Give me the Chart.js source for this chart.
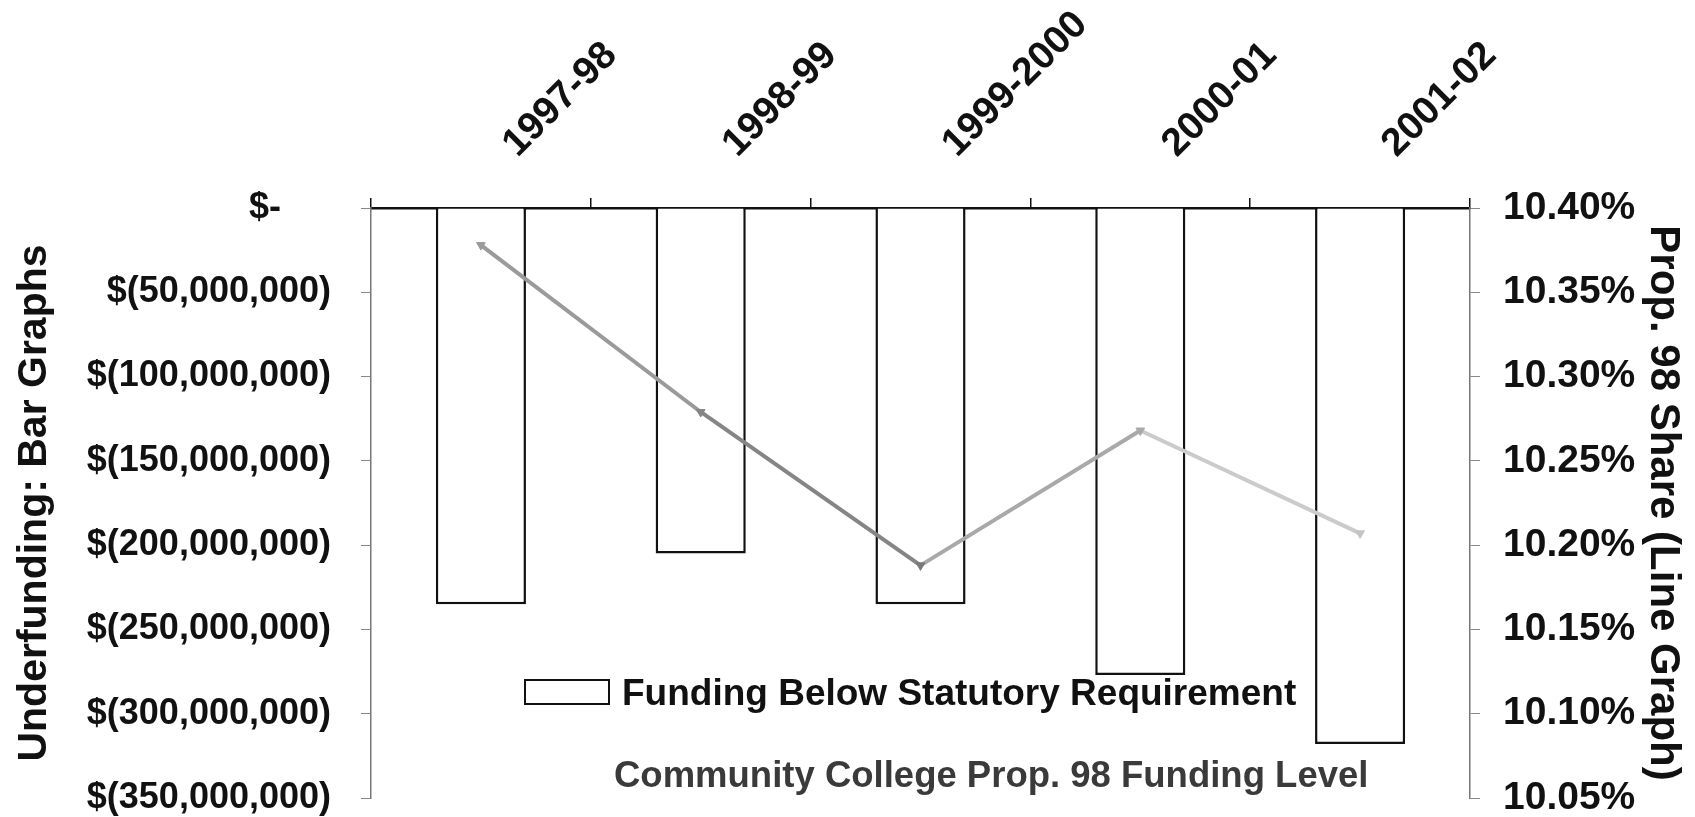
<!DOCTYPE html>
<html>
<head>
<meta charset="utf-8">
<title>Community College Prop. 98 Funding Level</title>
<script src="https://cdn.jsdelivr.net/npm/chart.js@4/dist/chart.umd.min.js"></script>
<style>
  html, body { margin: 0; padding: 0; background: #fff; }
  #wrap { position: relative; width: 1695px; height: 817px; }
  #legendBox {
    position: absolute; left: 524px; top: 679px; width: 82px; height: 22px;
    border: 2.5px solid #111; background: #fff;
  }
  .overlay {
    position: absolute; white-space: nowrap;
    font-family: "Liberation Sans", Arial, sans-serif; font-weight: bold; line-height: 1;
  }
  #legendText { left: 622px; top: 674px; font-size: 37px; color: #111; }
  #subtitle { left: 614px; top: 757px; font-size: 36.5px; color: #3a3a3a; }
</style>
</head>
<body>
<div id="wrap">
  <canvas id="chart" width="1695" height="817"></canvas>
  <div id="legendBox"></div>
  <div id="legendText" class="overlay"></div>
  <div id="subtitle" class="overlay"></div>
</div>
<script>
// school years (top axis)
const years = ['1997-98', '1998-99', '1999-2000', '2000-01', '2001-02'];

// bars: funding below statutory requirement, dollars
const underfunding = [-235000000, -205000000, -235000000, -277000000, -318000000];

// line: community college share of Prop. 98, percent
const propShare = [10.378, 10.279, 10.188, 10.268, 10.207];

const barLabel = 'Funding Below Statutory Requirement';
const chartCaption = 'Community College Prop. 98 Funding Level';

// the scanned line fades from mid grey to light grey
const segColors = ['#9a9a9a', '#858585', '#a9a9a9', '#cbcbcb'];
const pointColors = ['#9a9a9a', '#858585', '#7a7a7a', '#a9a9a9', '#c4c4c4'];

document.getElementById('legendText').textContent = barLabel;
document.getElementById('subtitle').textContent = chartCaption;

Chart.defaults.font.family = '"Liberation Sans", Arial, sans-serif';
Chart.defaults.color = '#111';

function money(v) {
    if (v === 0) return '$-     ';
    return '$(' + Math.abs(v).toLocaleString('en-US') + ')';
}

// keep the plot box where the original sits; labels may hang over the edges
function fixWidth(w) {
    return s => {
        s.width = w;
        s.paddingTop = 0;
        s.paddingBottom = 0;
    };
}

let ctx = document.getElementById('chart').getContext('2d');
let chart = new Chart(ctx, {
    type: 'bar',
    data: {
        labels: years,
        datasets: [{
            type: 'line',
            label: 'Prop. 98 Share',
            data: propShare,
            yAxisID: 'y1',
            order: 0,
            borderColor: '#9a9a9a',
            borderWidth: 4,
            tension: 0,
            segment: { borderColor: c => segColors[c.p0DataIndex] },
            pointStyle: 'triangle',
            pointRotation: 180,
            pointRadius: 5,
            pointBackgroundColor: pointColors,
            pointBorderColor: pointColors,
            pointBorderWidth: 1
        }, {
            type: 'bar',
            label: barLabel,
            data: underfunding,
            yAxisID: 'y',
            order: 1,
            backgroundColor: '#ffffff',
            borderColor: '#111111',
            borderWidth: 2.5,
            barPercentage: 0.41,
            categoryPercentage: 1
        }]
    },
    options: {
        responsive: false,
        animation: false,
        layout: { padding: { bottom: 19 } },
        plugins: {
            legend: { display: false },
            tooltip: { enabled: false }
        },
        scales: {
            x: {
                position: 'top',
                offset: true,
                grid: { offset: true, drawOnChartArea: false, tickLength: 10, color: '#111', lineWidth: 1.5 },
                border: { color: '#111', width: 2.5 },
                ticks: {
                    minRotation: 45, maxRotation: 45,
                    padding: 31, labelOffset: 62,
                    font: { size: 39, weight: 'bold' }
                },
                afterFit: s => { s.height = 208; }
            },
            y: {
                position: 'left',
                min: -350000000, max: 0,
                ticks: {
                    stepSize: 50000000,
                    padding: 30,
                    callback: v => money(v),
                    font: { size: 36, weight: 'bold' }
                },
                grid: { drawOnChartArea: false, tickLength: 10, color: '#888' },
                border: { color: '#777', width: 1.5 },
                title: {
                    display: true,
                    text: 'Underfunding: Bar Graphs',
                    font: { size: 41, weight: 'bold' },
                    padding: { top: 10, bottom: 0 }
                },
                afterFit: fixWidth(371)
            },
            y1: {
                position: 'right',
                min: 10.05, max: 10.40,
                ticks: {
                    stepSize: 0.05,
                    padding: 23,
                    callback: v => v.toFixed(2) + '%',
                    font: { size: 39, weight: 'bold' }
                },
                grid: { drawOnChartArea: false, tickLength: 10, color: '#888' },
                border: { color: '#777', width: 1.5 },
                title: {
                    display: true,
                    text: 'Prop. 98 Share (Line Graph)',
                    font: { size: 42, weight: 'bold' },
                    padding: { top: 7, bottom: 0 }
                },
                afterFit: fixWidth(225)
            }
        }
    }
});
</script>
</body>
</html>
